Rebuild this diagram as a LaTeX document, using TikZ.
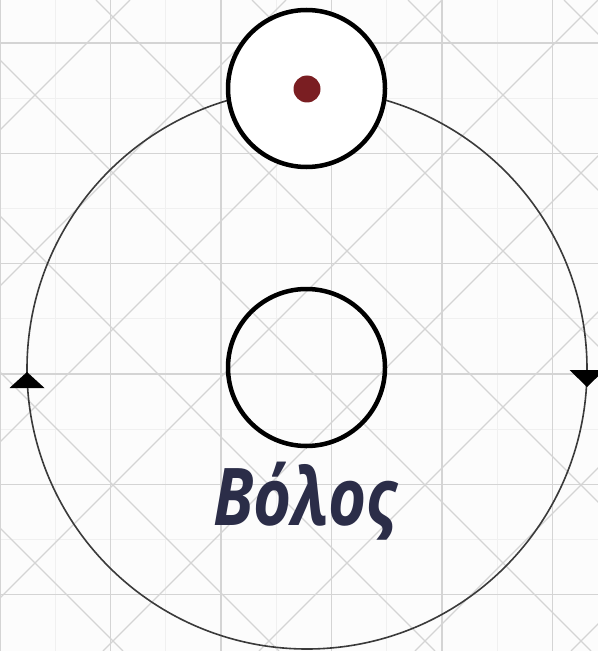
\documentclass[tikz,border=0pt]{standalone}
\usepackage{fontspec}
\usetikzlibrary{calc}
\newfontfamily\labelfont[FakeStretch=0.82]{Open Sans}
\definecolor{gridgray}{HTML}{D4D4D4}
\definecolor{faintgray}{HTML}{F0F0F0}
\definecolor{dotred}{HTML}{7A1E22}
\definecolor{navy}{HTML}{2B2D48}
\definecolor{ringgray}{HTML}{3A3A3A}
\tikzset{
  gridline/.style={draw=gridgray, line width=1.2bp},
  faintline/.style={draw=faintgray, line width=1bp},
  ring/.style={circle, draw=black, line width=4.5bp, minimum size=157bp, inner sep=0pt},
  orbit/.style={draw=ringgray, line width=1.6bp},
  tip/.style={fill=black},
}
\begin{document}
\begin{tikzpicture}[x=1bp,y=-1bp]
\useasboundingbox (0,0) rectangle (598,651);
\clip (0,0) rectangle (598,651);
\fill[white!98!gray] (0,0) rectangle (598,651);
% faint texture
\foreach \i in {0,...,11} \draw[faintline] (55.25*\i,0) -- ++(0,651);
\foreach \j in {0,...,11} \draw[faintline] (0,-12+55.15*\j) -- ++(598,0);
% grid
\foreach \i in {0,...,5} \draw[gridline] (110.5*\i,0) -- ++(0,651);
\foreach \j in {0,...,5} \draw[gridline] (0,43+110.3*\j) -- ++(598,0);
\foreach \k in {-5,...,4} \draw[gridline] (-60+156*\k,0) -- ++(651,651);
\foreach \k in {-1,...,8} \draw[gridline] (130+156*\k,0) -- ++(-651,651);
% orbit
\coordinate (c) at (307,369);
\draw[orbit] (c) circle (280);
\coordinate (lt) at (27,380);
\coordinate (rt) at (587,378);
\fill[tip] ($(lt)+(0,-8)$) -- ++(17.5,16) -- ++(-35,0) -- cycle;
\fill[tip] ($(rt)+(0,9)$) -- ++(17.5,-17) -- ++(-35,0) -- cycle;
% top ring
\node[ring, fill=white] (top) at (306.5,88.5) {};
\node[circle, fill=dotred, minimum size=27bp, inner sep=0pt] (dot) at (307,89) {};
% inner ring
\node[ring] (inner) at (306.5,367.5) {};
% label
\node[anchor=base, text=navy, inner sep=0pt, font=\labelfont\bfseries\itshape\fontsize{80}{88}\selectfont] (name) at (305,525) {Βόλος};
\end{tikzpicture}
\end{document}
